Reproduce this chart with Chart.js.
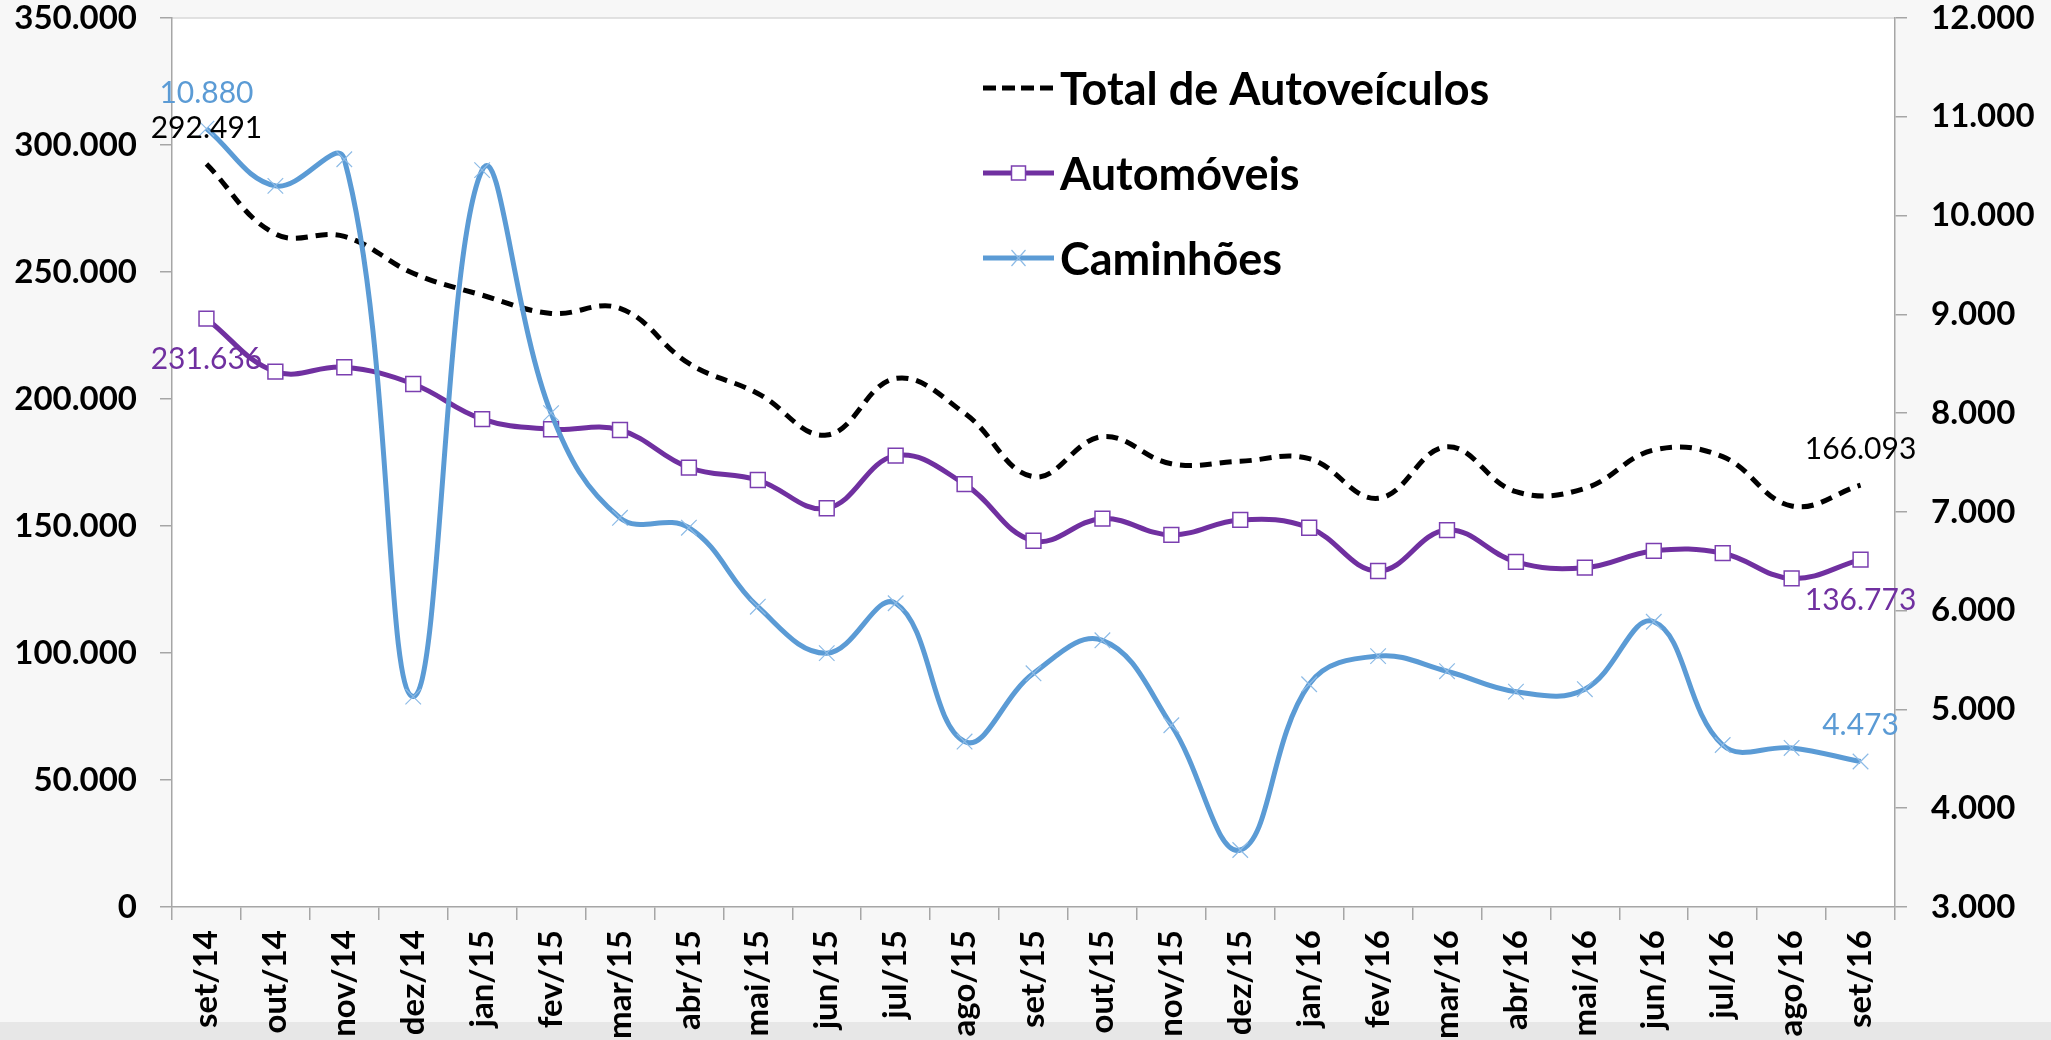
<!DOCTYPE html>
<html>
<head>
<meta charset="utf-8">
<script src="https://cdn.jsdelivr.net/npm/chart.js@4.4.0/dist/chart.umd.min.js"></script>
<style>
  html, body { margin: 0; padding: 0; background: #f7f7f7; }
  #wrap { width: 2051px; height: 1040px; }
</style>
</head>
<body>
<div id="wrap"><canvas id="chart" width="2051" height="1040"></canvas></div>
<script>
// ===== Data =====
const months = ['set/14', 'out/14', 'nov/14', 'dez/14', 'jan/15', 'fev/15', 'mar/15', 'abr/15',
  'mai/15', 'jun/15', 'jul/15', 'ago/15', 'set/15', 'out/15', 'nov/15', 'dez/15', 'jan/16',
  'fev/16', 'mar/16', 'abr/16', 'mai/16', 'jun/16', 'jul/16', 'ago/16', 'set/16'];

const totalAutoveiculos = [292491, 265000, 264000, 249500, 240900, 233700, 235700, 214000,
  202200, 185800, 208100, 194400, 169400, 185200, 174500, 175500, 176500,
  160900, 181200, 163500, 164800, 179900, 177300, 157900, 166093];

const automoveis = [231636, 210800, 212500, 205900, 192100, 188100, 187800, 173000,
  168100, 157000, 177700, 166500, 144200, 152900, 146500, 152400, 149300,
  132300, 148400, 135900, 133600, 140200, 139300, 129400, 136773];

// secondary axis
const caminhoes = [10880, 10300, 10570, 5130, 10460, 8000, 6940, 6840,
  6040, 5570, 6075, 4675, 5366, 5700, 4840, 3577, 5255,
  5540, 5387, 5180, 5205, 5888, 4640, 4610, 4473];

const seriesNames = ['Total de Autoveículos', 'Automóveis', 'Caminhões'];

const FONT = 'Lato, "Open Sans", "Noto Sans", sans-serif';
const BLACK = '#000000';
const PURPLE = '#7030A0';
const BLUE = '#5B9BD5';
const AXIS_GRAY = '#a6a6a6';

// 350000 -> "350.000"
function fmt(v) {
  return String(Math.round(v)).replace(/\B(?=(\d{3})+(?!\d))/g, '.');
}

// ===== Plugins =====
const backgroundPlugin = {
  id: 'slideBackground',
  beforeDraw(chart) {
    const { ctx, chartArea: a, width, height } = chart;
    ctx.save();
    ctx.fillStyle = '#f7f7f7';
    ctx.fillRect(0, 0, width, height);
    ctx.fillStyle = '#e7e7e7';
    ctx.fillRect(0, 1022, width, height - 1022);
    ctx.fillStyle = '#ffffff';
    ctx.fillRect(a.left, a.top, a.right - a.left, a.bottom - a.top);
    ctx.strokeStyle = '#d9d9d9';
    ctx.lineWidth = 1.5;
    ctx.beginPath();
    ctx.moveTo(a.left, a.top);
    ctx.lineTo(a.right, a.top);
    ctx.stroke();
    ctx.restore();
  }
};

// first and last value of every series
const valueLabelPlugin = {
  id: 'valueLabels',
  afterDatasetsDraw(chart) {
    const { ctx } = chart;
    const spots = [
      { ds: 0, idx: 0, dy: -36 }, { ds: 0, idx: months.length - 1, dy: -36 },
      { ds: 1, idx: 0, dy: 41 }, { ds: 1, idx: months.length - 1, dy: 41 },
      { ds: 2, idx: 0, dy: -35 }, { ds: 2, idx: months.length - 1, dy: -36 }
    ];
    ctx.save();
    ctx.font = '30px ' + FONT;
    ctx.textAlign = 'center';
    ctx.textBaseline = 'middle';
    spots.forEach(s => {
      const dataset = chart.data.datasets[s.ds];
      const pt = chart.getDatasetMeta(s.ds).data[s.idx];
      ctx.fillStyle = dataset.labelColor;
      ctx.fillText(fmt(dataset.data[s.idx]), pt.x, pt.y + s.dy);
    });
    ctx.restore();
  }
};

// legend sitting inside the plot area
const insideLegendPlugin = {
  id: 'insideLegend',
  afterDraw(chart) {
    const { ctx } = chart;
    const x0 = 983, x1 = 1054, textX = 1060;
    const rows = [88, 173, 258];
    ctx.save();
    chart.data.datasets.forEach((ds, i) => {
      const y = rows[i];
      ctx.strokeStyle = ds.borderColor;
      ctx.lineWidth = 5;
      ctx.setLineDash(ds.borderDash ? [13, 6] : []);
      ctx.beginPath();
      ctx.moveTo(x0, y);
      ctx.lineTo(x1, y);
      ctx.stroke();
      ctx.setLineDash([]);
      const mx = (x0 + x1) / 2;
      if (ds.pointStyle === 'rect') {
        ctx.fillStyle = '#fff';
        ctx.strokeStyle = ds.pointBorderColor;
        ctx.lineWidth = 1.5;
        ctx.fillRect(mx - 7, y - 7, 14, 14);
        ctx.strokeRect(mx - 7, y - 7, 14, 14);
      } else if (ds.pointStyle === 'crossRot') {
        ctx.strokeStyle = ds.pointBorderColor;
        ctx.lineWidth = 1.2;
        ctx.beginPath();
        ctx.moveTo(mx - 7, y - 8); ctx.lineTo(mx + 7, y + 8);
        ctx.moveTo(mx + 7, y - 8); ctx.lineTo(mx - 7, y + 8);
        ctx.stroke();
      }
      ctx.fillStyle = '#000';
      ctx.font = 'bold 45px ' + FONT;
      ctx.textAlign = 'left';
      ctx.textBaseline = 'middle';
      ctx.fillText(ds.label, textX, y + 2);
    });
    ctx.restore();
  }
};

const tickFont = { family: FONT, size: 33, weight: 'bold' };

// fixed axis boxes so the plot area lands where the reference has it
function fixVertical(width) {
  return s => {
    s.width = width;
    s.paddingTop = 18;
    s.paddingBottom = 0;
  };
}

function drawChart() {
  const ctx = document.getElementById('chart').getContext('2d');
  new Chart(ctx, {
    type: 'line',
    data: {
      labels: months,
      datasets: [{
        label: seriesNames[0],
        data: totalAutoveiculos,
        yAxisID: 'y',
        borderColor: BLACK,
        labelColor: BLACK,
        borderWidth: 5,
        borderDash: [12, 8],
        pointRadius: 0,
        tension: 0.4,
        fill: false,
        order: 3
      }, {
        label: seriesNames[1],
        data: automoveis,
        yAxisID: 'y',
        borderColor: PURPLE,
        labelColor: PURPLE,
        borderWidth: 5,
        pointStyle: 'rect',
        pointRadius: 10.5,
        pointBorderWidth: 1.5,
        pointBackgroundColor: '#ffffff',
        pointBorderColor: '#7b3fb0',
        tension: 0.4,
        fill: false,
        order: 2
      }, {
        label: seriesNames[2],
        data: caminhoes,
        yAxisID: 'y1',
        borderColor: BLUE,
        labelColor: BLUE,
        borderWidth: 5,
        pointStyle: 'crossRot',
        pointRadius: 11,
        pointBorderWidth: 1.2,
        pointBorderColor: '#8dbbe6',
        pointBackgroundColor: '#8dbbe6',
        tension: 0.4,
        fill: false,
        order: 1
      }]
    },
    options: {
      responsive: false,
      devicePixelRatio: 1,
      animation: false,
      layout: { padding: 0 },
      plugins: {
        legend: { display: false },
        tooltip: { enabled: false }
      },
      scales: {
        x: {
          type: 'category',
          offset: true,
          grid: {
            offset: true,
            drawOnChartArea: false,
            tickLength: 13,
            color: AXIS_GRAY,
            lineWidth: 1.5
          },
          border: { color: AXIS_GRAY, width: 1.5 },
          ticks: {
            color: '#000',
            font: tickFont,
            minRotation: 90,
            maxRotation: 90,
            autoSkip: false,
            padding: 10
          },
          afterFit: s => { s.height = 133; }
        },
        y: {
          position: 'left',
          min: 0,
          max: 350000,
          grid: { drawOnChartArea: false, tickLength: 12, color: AXIS_GRAY, lineWidth: 1.5 },
          border: { color: AXIS_GRAY, width: 1.5 },
          ticks: {
            stepSize: 50000,
            color: '#000',
            font: tickFont,
            padding: 23,
            callback: v => fmt(v)
          },
          afterFit: fixVertical(172)
        },
        y1: {
          position: 'right',
          min: 3000,
          max: 12000,
          grid: { drawOnChartArea: false, tickLength: 12, color: AXIS_GRAY, lineWidth: 1.5 },
          border: { color: AXIS_GRAY, width: 1.5 },
          ticks: {
            stepSize: 1000,
            color: '#000',
            font: tickFont,
            padding: 24,
            callback: v => fmt(v)
          },
          afterFit: fixVertical(156)
        }
      }
    },
    plugins: [backgroundPlugin, valueLabelPlugin, insideLegendPlugin]
  });
}

Promise.all([
  document.fonts.load('bold 33px Lato'),
  document.fonts.load('30px Lato')
]).then(drawChart, drawChart);
</script>
</body>
</html>
